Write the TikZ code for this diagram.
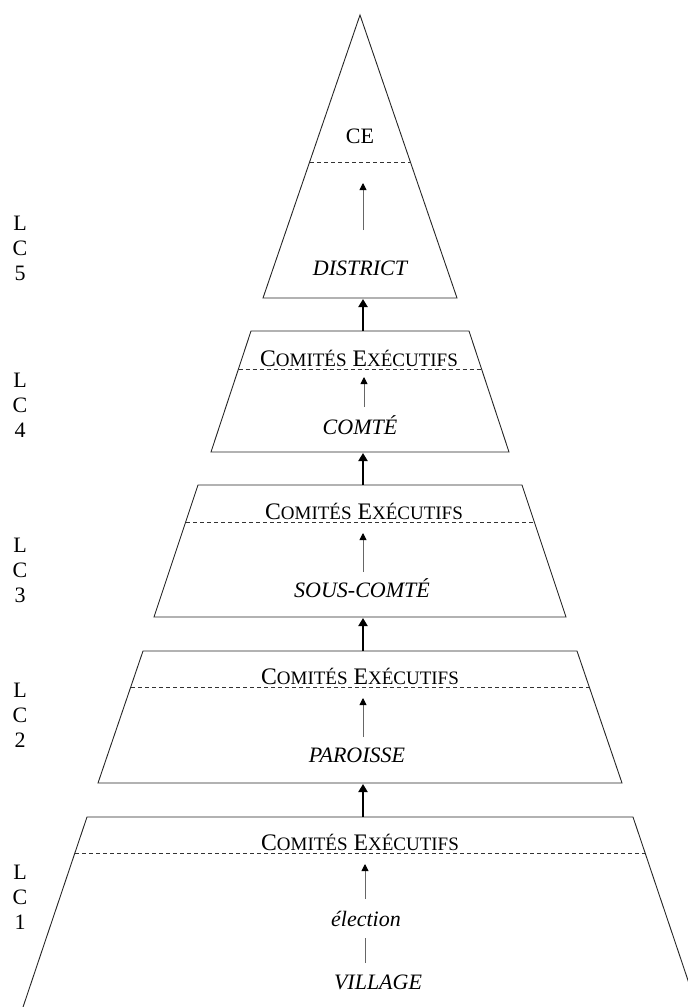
\documentclass[tikz,border=0pt]{standalone}
\usepackage{fontspec}
\setmainfont{Liberation Serif}
\usetikzlibrary{arrows.meta}
\newcommand\comex{{\fontsize{23.7}{24}\selectfont C{\fontsize{19}{19}\selectfont OMITÉS} E{\fontsize{19}{19}\selectfont XÉCUTIFS}}}
\begin{document}
\begin{tikzpicture}[x=1pt,y=-1pt,
  shapeline/.style={draw=black!85,line width=0.9pt,line join=miter},
  dashline/.style={draw=black!80,line width=0.8pt,dash pattern=on 4pt off 3pt},
  tarrow/.style={draw=black!60,line width=0.9pt,-{Triangle[length=7pt,width=7pt,black]}},
  tline/.style={draw=black!60,line width=0.9pt},
  bigarrow/.style={draw=black,line width=2.8pt,-{Triangle[length=8pt,width=9pt]}},
  lvl/.style={font=\fontsize{22}{25}\selectfont,inner sep=0pt,align=center},
  ital/.style={font=\fontsize{22}{25}\selectfont\itshape,inner sep=0pt},
  comite/.style={inner sep=0pt,anchor=base}]
\useasboundingbox (0,0) rectangle (688,1007);
\clip (0,0) rectangle (688,1007);
% ---------- level 5 : triangle ----------
\coordinate (t5A) at (360,15);
\coordinate (t5L) at (263,298);
\coordinate (t5R) at (457,298);
\draw[shapeline] (t5A) -- (t5R) -- (t5L) -- cycle;
\coordinate (d5L) at (310,162);
\coordinate (d5R) at (410,162);
\draw[dashline] (d5L) -- (d5R);
\node[lvl] (ce) at (360,136) {CE};
\node[ital] (district) at (360,268) {DISTRICT};
\coordinate (a5b) at (363,230);
\coordinate (a5t) at (363,183);
\draw[tarrow] (a5b) -- (a5t);
% ---------- level 4 ----------
\coordinate (t4TL) at (251,331);
\coordinate (t4TR) at (469,331);
\coordinate (t4BR) at (509,452);
\coordinate (t4BL) at (211,452);
\draw[shapeline] (t4TL) -- (t4TR) -- (t4BR) -- (t4BL) -- cycle;
\coordinate (d4L) at (238.5,369);
\coordinate (d4R) at (481.5,369);
\draw[dashline] (d4L) -- (d4R);
\node[comite] (ce4) at (359,366) {\comex};
\node[ital] (comte) at (360,425) {COMTÉ};
\coordinate (a4b) at (364,407);
\coordinate (a4t) at (364,377);
\draw[tarrow] (a4b) -- (a4t);
% ---------- level 3 ----------
\coordinate (t3TL) at (198,485);
\coordinate (t3TR) at (522,485);
\coordinate (t3BR) at (566,617);
\coordinate (t3BL) at (154,617);
\draw[shapeline] (t3TL) -- (t3TR) -- (t3BR) -- (t3BL) -- cycle;
\coordinate (d3L) at (186,522);
\coordinate (d3R) at (534,522);
\draw[dashline] (d3L) -- (d3R);
\node[comite] (ce3) at (364,519.5) {\comex};
\node[ital] (souscomte) at (362,588) {SOUS-COMTÉ};
\coordinate (a3b) at (363,572);
\coordinate (a3t) at (363,533);
\draw[tarrow] (a3b) -- (a3t);
% ---------- level 2 ----------
\coordinate (t2TL) at (143,651);
\coordinate (t2TR) at (577,651);
\coordinate (t2BR) at (622,783);
\coordinate (t2BL) at (98,783);
\draw[shapeline] (t2TL) -- (t2TR) -- (t2BR) -- (t2BL) -- cycle;
\coordinate (d2L) at (131,687);
\coordinate (d2R) at (589,687);
\draw[dashline] (d2L) -- (d2R);
\node[comite] (ce2) at (360,684.5) {\comex};
\node[ital] (paroisse) at (357,755) {PAROISSE};
\coordinate (a2b) at (363,737);
\coordinate (a2t) at (363,698);
\draw[tarrow] (a2b) -- (a2t);
% ---------- level 1 ----------
\coordinate (t1TL) at (87,817);
\coordinate (t1TR) at (633,817);
\coordinate (t1BR) at (700,1016);
\coordinate (t1BL) at (20,1016);
\draw[shapeline] (t1BL) -- (t1TL) -- (t1TR) -- (t1BR);
\coordinate (d1L) at (75,853);
\coordinate (d1R) at (645,853);
\draw[dashline] (d1L) -- (d1R);
\node[comite] (ce1) at (360,850.5) {\comex};
\node[ital] (election) at (366,919) {élection};
\node[ital] (village) at (378,982) {VILLAGE};
\coordinate (a1b) at (365,899);
\coordinate (a1t) at (365,864);
\draw[tarrow] (a1b) -- (a1t);
\coordinate (l1b) at (365,963);
\coordinate (l1t) at (365,938);
\draw[tline] (l1b) -- (l1t);
% ---------- thick arrows between levels ----------
\coordinate (b1) at (363,817);
\coordinate (e1) at (363,784);
\draw[bigarrow] (b1) -- (e1);
\coordinate (b2) at (363,651);
\coordinate (e2) at (363,618);
\draw[bigarrow] (b2) -- (e2);
\coordinate (b3) at (363,485);
\coordinate (e3) at (363,453);
\draw[bigarrow] (b3) -- (e3);
\coordinate (b4) at (363,331);
\coordinate (e4) at (363,299);
\draw[bigarrow] (b4) -- (e4);
% ---------- level labels ----------
\node[lvl] (lc5) at (20,248) {L\\C\\5};
\node[lvl] (lc4) at (20,405) {L\\C\\4};
\node[lvl] (lc3) at (20,570) {L\\C\\3};
\node[lvl] (lc2) at (20,715) {L\\C\\2};
\node[lvl] (lc1) at (20,897) {L\\C\\1};
\end{tikzpicture}
\end{document}
